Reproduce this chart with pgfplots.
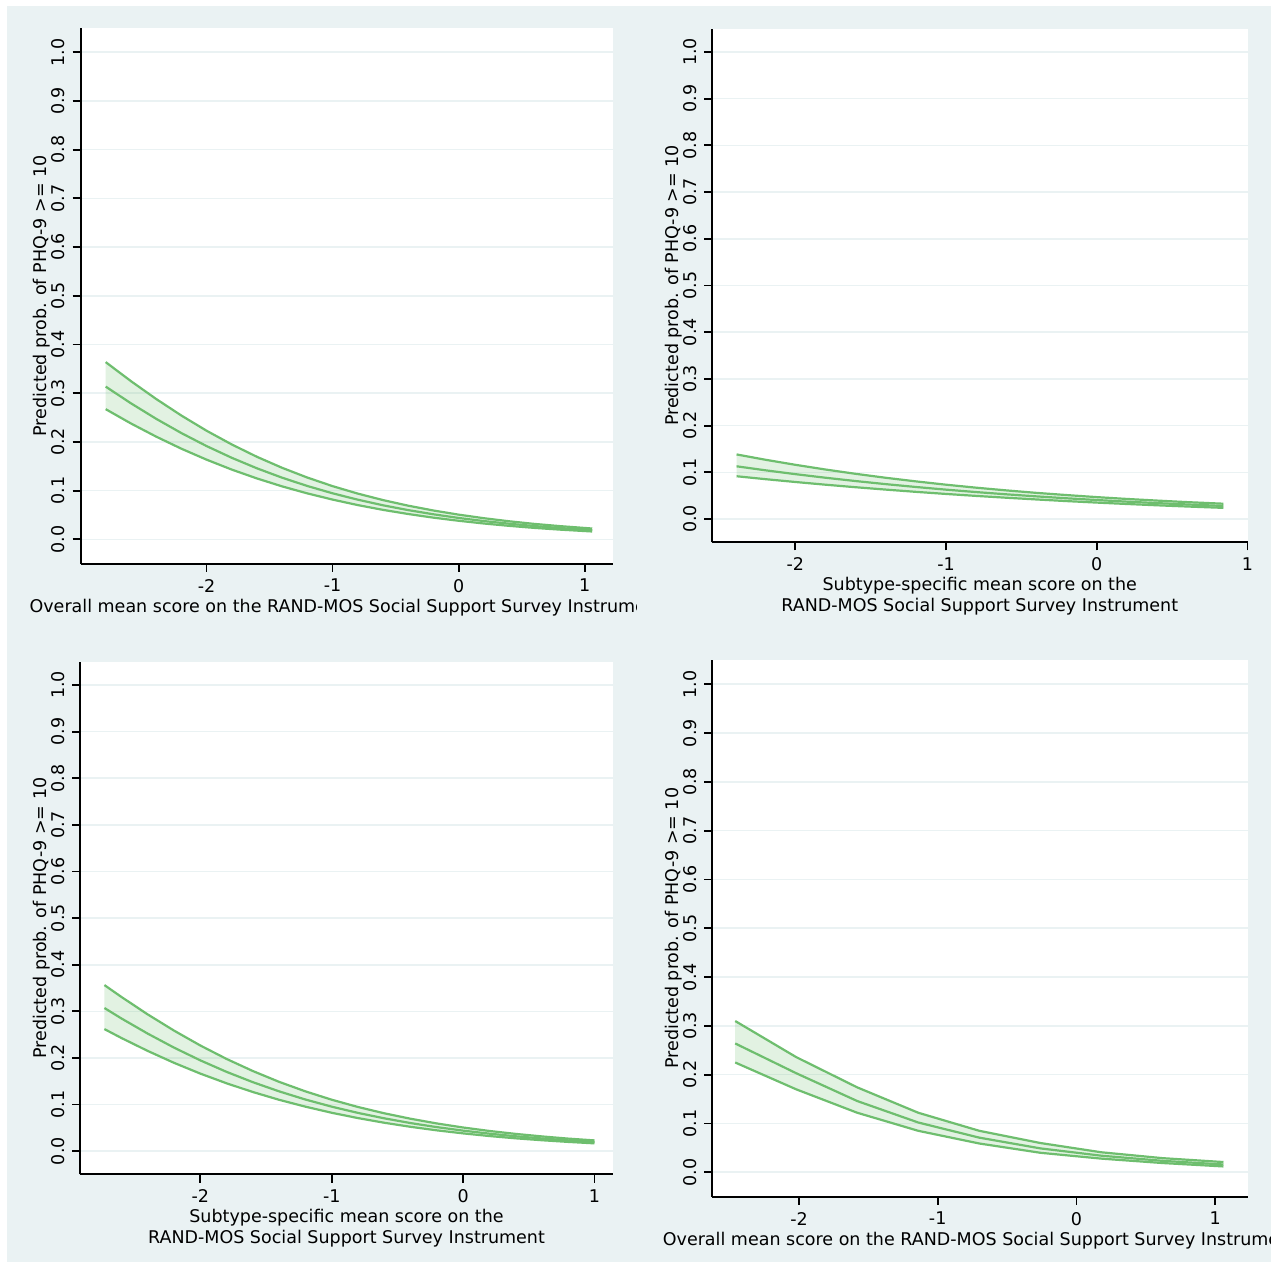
\documentclass[border=0pt]{standalone}
\usepackage{fontspec}
\setmainfont{DejaVu Sans}
\usepackage{pgfplots}
\pgfplotsset{compat=1.18}
\usepackage{pgfplotstable}

\definecolor{bgc}{RGB}{234,242,243}
\definecolor{grn}{RGB}{110,190,110}

% x  lo  mean  hi
\pgfplotstableread{
x lo mean hi
-2.8 0.2672 0.3135 0.3638
-2.6 0.2379 0.2793 0.3248
-2.4 0.2109 0.2475 0.2882
-2.2 0.1861 0.2182 0.2542
-2.0 0.1636 0.1915 0.2230
-1.8 0.1432 0.1674 0.1948
-1.6 0.1250 0.1458 0.1694
-1.4 0.1087 0.1265 0.1468
-1.2 0.0943 0.1095 0.1268
-1.0 0.0816 0.0945 0.1092
-0.8 0.0703 0.0814 0.0939
-0.6 0.0605 0.0699 0.0806
-0.4 0.0520 0.0600 0.0691
-0.2 0.0445 0.0514 0.0592
0.0 0.0381 0.0439 0.0507
0.2 0.0325 0.0375 0.0434
0.4 0.0277 0.0321 0.0371
0.6 0.0235 0.0273 0.0317
0.8 0.0200 0.0233 0.0272
1.06 0.0161 0.0189 0.0222
}\PA
\pgfplotstableread{
x lo mean hi
-2.39 0.0916 0.1129 0.1383
-2.2 0.0854 0.1044 0.1270
-2.0 0.0793 0.0961 0.1161
-1.8 0.0735 0.0884 0.1060
-1.6 0.0681 0.0813 0.0968
-1.4 0.0630 0.0747 0.0883
-1.2 0.0582 0.0686 0.0806
-1.0 0.0537 0.0629 0.0735
-0.8 0.0495 0.0577 0.0671
-0.6 0.0456 0.0529 0.0613
-0.4 0.0419 0.0485 0.0560
-0.2 0.0384 0.0444 0.0513
0.0 0.0352 0.0407 0.0469
0.2 0.0322 0.0372 0.0430
0.4 0.0294 0.0341 0.0395
0.6 0.0268 0.0312 0.0362
0.84 0.0239 0.0280 0.0328
}\PB
\pgfplotstableread{
x lo mean hi
-2.73 0.2619 0.3071 0.3563
-2.6 0.2427 0.2846 0.3307
-2.4 0.2150 0.2521 0.2933
-2.2 0.1895 0.2221 0.2586
-2.0 0.1664 0.1948 0.2267
-1.8 0.1456 0.1701 0.1978
-1.6 0.1269 0.1480 0.1719
-1.4 0.1102 0.1283 0.1487
-1.2 0.0955 0.1108 0.1283
-1.0 0.0824 0.0955 0.1104
-0.8 0.0710 0.0821 0.0948
-0.6 0.0610 0.0705 0.0813
-0.4 0.0523 0.0603 0.0696
-0.2 0.0447 0.0516 0.0595
0.0 0.0382 0.0441 0.0508
0.2 0.0325 0.0376 0.0434
0.4 0.0276 0.0320 0.0371
0.6 0.0235 0.0273 0.0317
0.8 0.0199 0.0232 0.0270
1.0 0.0168 0.0197 0.0231
}\PC
\pgfplotstableread{
x lo mean hi
-2.46 0.225 0.264 0.310
-2.02 0.170 0.203 0.236
-1.58 0.122 0.146 0.174
-1.14 0.085 0.102 0.122
-0.70 0.059 0.071 0.085
-0.26 0.040 0.049 0.060
0.18 0.028 0.034 0.041
0.62 0.019 0.0235 0.029
1.06 0.012 0.016 0.021
}\PD

\pgfplotsset{
  panel/.style={
    scale only axis,
    axis x line=bottom, axis y line=left,
    axis line style={black, line width=1pt, -},
    axis background/.style={fill=white},
    ymin=-0.05, ymax=1.05,
    ytick={0,0.1,0.2,0.3,0.4,0.5,0.6,0.7,0.8,0.9,1.0},
    yticklabels={0.0,0.1,0.2,0.3,0.4,0.5,0.6,0.7,0.8,0.9,1.0},
    xtick={-2,-1,0,1}, xticklabels={-2,-1,0,1},
    ymajorgrids, grid style={bgc, line width=0.8pt},
    tick align=outside, major tick length=4pt,
    tick style={black, line width=0.9pt},
    font=\fontsize{8.75}{10.4}\selectfont,
    xticklabel style={anchor=north, inner sep=0pt},
    yticklabel style={rotate=90, anchor=south, inner sep=0pt},
    xticklabel shift=3.5pt, yticklabel shift=3.5pt,
    every axis x label/.style={at={(axis description cs:0.5,0)}, yshift=-17.4pt, anchor=north, inner sep=0pt, align=center},
    every axis y label/.style={at={(axis description cs:0,0.5)}, xshift=-17pt, rotate=90, anchor=base, inner sep=0pt},
    ylabel={Predicted prob. of PHQ-9 >= 10},
  },
  band/.style={fill=grn, fill opacity=0.2, draw=none},
  cline/.style={grn, line width=1.1pt, no markers},
}

\begin{document}
\begin{tikzpicture}
\fill[white] (0pt,0pt) rectangle (639pt,631pt);
\fill[bgc] (3.5pt,0pt) rectangle (635.5pt,628pt);

% Panel 1
\begin{axis}[panel, at={(40.25pt,349.15pt)}, anchor=south west,
  width=266.25pt, height=267.9pt, xmin=-3.0, xmax=1.225,
  xlabel={\makebox[0pt]{Overall mean score on the RAND-MOS Social Support Survey Instrument}}]
\addplot[draw=none, no markers, stack plots=y, forget plot] table[x=x,y=lo]{\PA};
\addplot[band, stack plots=y] table[x=x,y expr=\thisrow{hi}-\thisrow{lo}]{\PA} \closedcycle;
\addplot[cline, stack plots=false] table[x=x,y=hi]{\PA};
\addplot[cline, stack plots=false] table[x=x,y=lo]{\PA};
\addplot[cline, stack plots=false] table[x=x,y=mean]{\PA};
\end{axis}
% the graph region of panel 1 ends here: its x title is cut off
\fill[bgc] (318.5pt,315pt) rectangle (350pt,340pt);

% Panel 2
\begin{axis}[panel, at={(356pt,359.8pt)}, anchor=south west,
  width=267.75pt, height=256.9pt, xmin=-2.553, xmax=1.0,
  xlabel={Subtype-specific mean score on the\\RAND-MOS Social Support Survey Instrument}]
\addplot[draw=none, no markers, stack plots=y, forget plot] table[x=x,y=lo]{\PB};
\addplot[band, stack plots=y] table[x=x,y expr=\thisrow{hi}-\thisrow{lo}]{\PB} \closedcycle;
\addplot[cline, stack plots=false] table[x=x,y=hi]{\PB};
\addplot[cline, stack plots=false] table[x=x,y=lo]{\PB};
\addplot[cline, stack plots=false] table[x=x,y=mean]{\PB};
\end{axis}

% Panel 3
\begin{axis}[panel, at={(40pt,43.75pt)}, anchor=south west,
  width=266.5pt, height=256.4pt, xmin=-2.916, xmax=1.141,
  xlabel={Subtype-specific mean score on the\\RAND-MOS Social Support Survey Instrument}]
\addplot[draw=none, no markers, stack plots=y, forget plot] table[x=x,y=lo]{\PC};
\addplot[band, stack plots=y] table[x=x,y expr=\thisrow{hi}-\thisrow{lo}]{\PC} \closedcycle;
\addplot[cline, stack plots=false] table[x=x,y=hi]{\PC};
\addplot[cline, stack plots=false] table[x=x,y=lo]{\PC};
\addplot[cline, stack plots=false] table[x=x,y=mean]{\PC};
\end{axis}

% Panel 4
\begin{axis}[panel, at={(356.15pt,32.65pt)}, anchor=south west,
  width=267.7pt, height=268.4pt, xmin=-2.625, xmax=1.235,
  xlabel={\makebox[0pt]{Overall mean score on the RAND-MOS Social Support Survey Instrument}}]
\addplot[draw=none, no markers, stack plots=y, forget plot] table[x=x,y=lo]{\PD};
\addplot[band, stack plots=y] table[x=x,y expr=\thisrow{hi}-\thisrow{lo}]{\PD} \closedcycle;
\addplot[cline, stack plots=false] table[x=x,y=hi]{\PD};
\addplot[cline, stack plots=false] table[x=x,y=lo]{\PD};
\addplot[cline, stack plots=false] table[x=x,y=mean]{\PD};
\end{axis}
\fill[white] (635.5pt,0pt) rectangle (639pt,20pt);
\end{tikzpicture}
\end{document}
